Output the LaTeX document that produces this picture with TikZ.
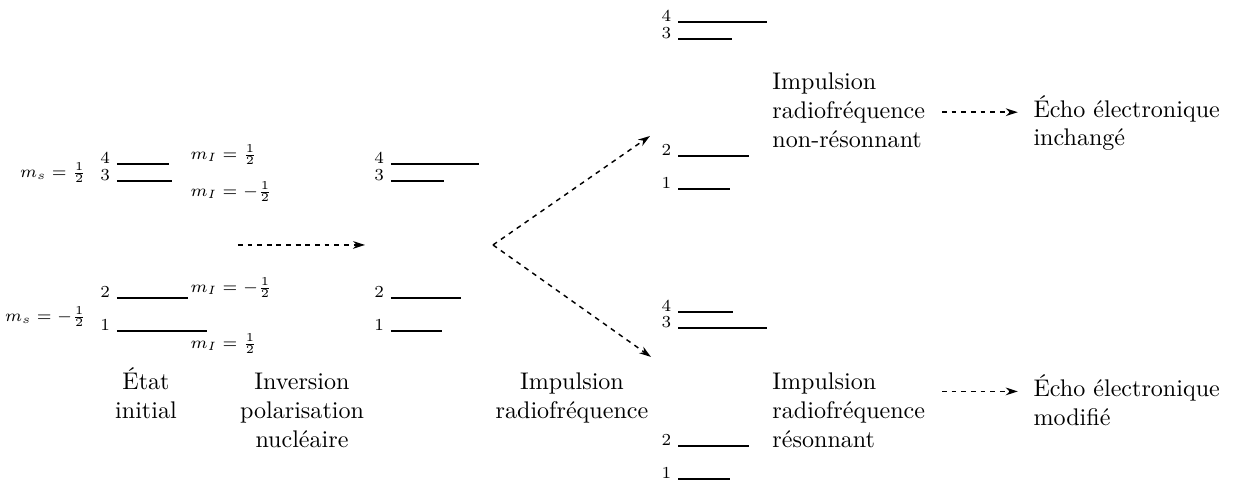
\documentclass[tikz,border=0pt]{standalone}
\usepackage{amsmath}
\usepackage{tikz}
\usetikzlibrary{
  arrows.meta, % pointes Stealth
  calc         % calculs de coordonnées
}
\tikzset{
  niveau/.style={
    line width=0.8pt
  },
  num/.style={
    font=\scriptsize,
    inner sep=2.5pt,
    anchor=base east
  },
  spin/.style={
    font=\scriptsize,
    inner sep=1pt
  },
  etape/.style={
    align=center,
    anchor=base
  },
  bilan/.style={
    align=left,
    anchor=base west
  },
  fleche/.style={
    -{Stealth[length=5pt, width=3.2pt]},
    semithick,
    dash pattern=on 2pt off 2pt
  }
}

\begin{document}
\begin{tikzpicture}
  \useasboundingbox (0,0) rectangle (18.015,7.036); % cadre de la figure

  % état initial : quatre niveaux
  \draw[niveau] (1.708,4.642) node[num] (i4) {4} -- ++(0.76,0);  % niveau 4
  \draw[niveau] (1.708,4.394) node[num] (i3) {3} -- ++(0.80,0);  % niveau 3
  \draw[niveau] (1.708,2.686) node[num] (i2) {2} -- ++(1.04,0);  % niveau 2
  \draw[niveau] (1.708,2.204) node[num] (i1) {1} -- ++(1.31,0);  % niveau 1

  % nombres quantiques
  \node[spin, anchor=east] (msh) at (1.30,4.511) {$m_s=\frac{1}{2}$};   % spin électronique haut
  \node[spin, anchor=east] (msb) at (1.30,2.409) {$m_s=-\frac{1}{2}$};  % spin électronique bas
  \node[spin, anchor=west] (mi4) at (2.739,4.774) {$m_I=\frac{1}{2}$};   % spin nucléaire, niveau 4
  \node[spin, anchor=west] (mi3) at (2.739,4.234) {$m_I=-\frac{1}{2}$};  % spin nucléaire, niveau 3
  \node[spin, anchor=west] (mi2) at (2.739,2.832) {$m_I=-\frac{1}{2}$};  % spin nucléaire, niveau 2
  \node[spin, anchor=west] (mi1) at (2.739,2.015) {$m_I=\frac{1}{2}$};   % spin nucléaire, niveau 1

  % après inversion de la polarisation nucléaire
  \draw[niveau] (5.708,4.642) node[num] (v4) {4} -- ++(1.285,0); % niveau 4
  \draw[niveau] (5.708,4.394) node[num] (v3) {3} -- ++(0.774,0); % niveau 3
  \draw[niveau] (5.708,2.686) node[num] (v2) {2} -- ++(1.022,0); % niveau 2
  \draw[niveau] (5.708,2.204) node[num] (v1) {1} -- ++(0.745,0); % niveau 1

  % impulsion non résonnante (en haut)
  \draw[niveau] (9.9,6.715) node[num] (n4) {4} -- ++(1.30,0);  % niveau 4
  \draw[niveau] (9.9,6.467) node[num] (n3) {3} -- ++(0.79,0);  % niveau 3
  \draw[niveau] (9.9,4.759) node[num] (n2) {2} -- ++(1.04,0);  % niveau 2
  \draw[niveau] (9.9,4.277) node[num] (n1) {1} -- ++(0.76,0);  % niveau 1

  % impulsion résonnante (en bas) : niveaux 3 et 4 échangés
  \draw[niveau] (9.9,2.482) node[num] (r4) {4} -- ++(0.80,0);  % niveau 4
  \draw[niveau] (9.9,2.248) node[num] (r3) {3} -- ++(1.30,0);  % niveau 3
  \draw[niveau] (9.9,0.526) node[num] (r2) {2} -- ++(1.04,0);  % niveau 2
  \draw[niveau] (9.9,0.044) node[num] (r1) {1} -- ++(0.76,0);  % niveau 1

  % légendes des étapes (ancre sur la dernière ligne)
  \node[etape] (etat) at (2.131,0.921) {État\\initial};
  \node[etape] (inversion) at (4.409,0.500) {Inversion\\polarisation\\nucléaire};
  \node[etape] (impulsion) at (8.350,0.921) {Impulsion\\radiofréquence};
  \node[bilan] (nonres) at (11.153,4.880) {Impulsion\\radiofréquence\\non-résonnant};
  \node[bilan] (res) at (11.153,0.500) {Impulsion\\radiofréquence\\résonnant};
  \node[bilan] (echoA) at (14.964,4.906) {Écho électronique\\inchangé};
  \node[bilan] (echoB) at (14.964,0.830) {Écho électronique\\modifié};

  % points de départ et d'arrivée des flèches
  \coordinate (depart) at (3.474,3.460);   % début de la flèche d'inversion
  \coordinate (arrivee) at (5.328,3.460);  % fin de la flèche d'inversion
  \coordinate (fourche) at (7.197,3.460);  % point de séparation des deux cas
  \coordinate (haut) at (9.489,5.051);     % vers le cas non résonnant
  \coordinate (bas) at (9.504,1.825);      % vers le cas résonnant

  % flèches
  \draw[fleche] (depart) -- (arrivee);
  \draw[fleche] (fourche) -- (haut);
  \draw[fleche] (fourche) -- (bas);
  \draw[fleche, shorten <=3.5pt, shorten >=3pt] ([yshift=14pt]nonres.east |- echoA.base) -- ([yshift=14pt]echoA.base west);
  \draw[fleche, shorten <=3.5pt, shorten >=3pt] ([yshift=14pt]res.east |- echoB.base) -- ([yshift=14pt]echoB.base west);
\end{tikzpicture}
\end{document}
